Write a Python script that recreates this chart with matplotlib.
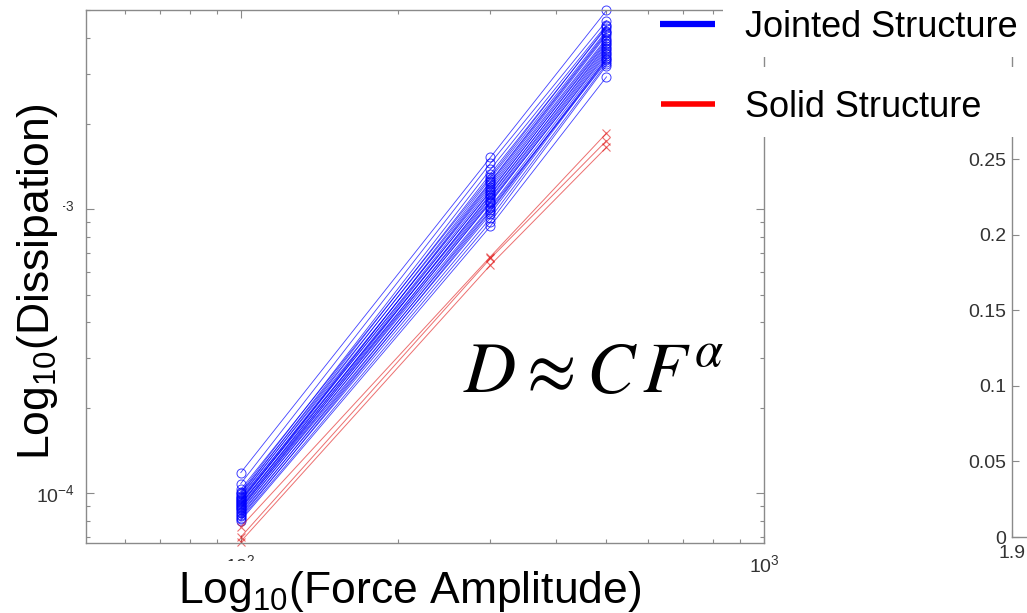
import matplotlib
matplotlib.use('Agg')
import matplotlib.pyplot as plt
from matplotlib.patches import Rectangle
from matplotlib.lines import Line2D
from matplotlib.ticker import NullFormatter, FuncFormatter

plt.rcParams['font.family'] = ['Liberation Sans', 'DejaVu Sans']
plt.rcParams['mathtext.fontset'] = 'custom'
plt.rcParams['mathtext.rm'] = 'Liberation Sans'
plt.rcParams['mathtext.it'] = 'Liberation Sans:italic'
plt.rcParams['mathtext.bf'] = 'Liberation Sans:bold'

# ---------------- data ----------------
force_levels = [100, 300, 500]

jointed_f100 = [1.18e-4, 1.08e-4, 1.03e-4, 1.01e-4, 1.00e-4, 9.9e-5, 9.8e-5,
                9.7e-5, 9.6e-5, 9.5e-5, 9.45e-5, 9.4e-5, 9.3e-5, 9.2e-5,
                9.15e-5, 9.1e-5, 9.0e-5, 8.9e-5, 8.85e-5, 8.8e-5, 8.7e-5,
                8.6e-5, 8.5e-5, 8.4e-5, 8.3e-5, 8.2e-5, 8.1e-5, 8.0e-5]
jointed_f300 = [1.52e-3, 1.45e-3, 1.30e-3, 1.38e-3, 1.25e-3, 1.33e-3, 1.20e-3,
                1.28e-3, 1.15e-3, 1.22e-3, 1.10e-3, 1.18e-3, 1.24e-3, 1.12e-3,
                1.07e-3, 1.16e-3, 1.05e-3, 1.13e-3, 1.02e-3, 1.09e-3, 0.99e-3,
                1.06e-3, 0.96e-3, 1.01e-3, 0.93e-3, 0.98e-3, 0.90e-3, 0.87e-3]
jointed_f500 = [5.0e-3, 4.6e-3, 4.4e-3, 4.45e-3, 4.2e-3, 4.35e-3, 4.0e-3,
                4.25e-3, 3.9e-3, 4.1e-3, 3.7e-3, 3.95e-3, 4.15e-3, 3.8e-3,
                3.6e-3, 3.85e-3, 3.55e-3, 3.75e-3, 3.45e-3, 3.65e-3, 3.4e-3,
                3.5e-3, 3.35e-3, 3.3e-3, 3.25e-3, 3.38e-3, 3.2e-3, 2.92e-3]

solid_f100 = [7.6e-5, 7.0e-5, 6.75e-5]
solid_f300 = [6.8e-4, 6.7e-4, 6.35e-4]
solid_f500 = [1.85e-3, 1.74e-3, 1.65e-3]

left_xlim = (50.6, 1000)
left_ylim = (6.67e-5, 5.02e-3)

right_xlim = (1.9, 2.5)
right_ylim = (0, 0.349)
right_yticks = [0, 0.05, 0.1, 0.15, 0.2, 0.25]
right_xticks = [1.9]

legend_labels = ['Jointed Structure', 'Solid Structure']
xlabel_text = r'Log$_{10}$(Force Amplitude)'
ylabel_text = r'Log$_{10}$(Dissipation)'
formula_text = r'$D \approx C\,F^{\alpha}$'

# ---------------- figure ----------------
W, H = 1027, 613
fig = plt.figure(figsize=(W / 100, H / 100), dpi=100)


def fx(px):
    return px / W


def fy(py):
    return 1 - py / H


spine_col = '#8a8a8a'
label_col = '#333333'

ax = fig.add_axes([fx(86), fy(543), fx(764) - fx(86), fy(10) - fy(543)])
ax.set_xscale('log')
ax.set_yscale('log')

for a, b, c in zip(jointed_f100, jointed_f300, jointed_f500):
    ax.plot(force_levels, [a, b, c], color='#0000ff', lw=0.6, alpha=0.75,
            marker='o', ms=6.5, mfc='none', mew=0.7, clip_on=False)
for a, b, c in zip(solid_f100, solid_f300, solid_f500):
    ax.plot(force_levels, [a, b, c], color='#e01010', lw=0.7, alpha=0.6,
            marker='x', ms=6, mew=0.8, clip_on=False)

ax.set_xlim(*left_xlim)
ax.set_ylim(*left_ylim)
ax.xaxis.set_minor_formatter(NullFormatter())
ax.yaxis.set_minor_formatter(NullFormatter())
ax.tick_params(which='both', direction='in', top=True, right=True,
               color=spine_col, labelcolor=label_col, labelsize=14, width=0.8)
ax.tick_params(which='major', length=6, pad=8)
ax.tick_params(which='minor', length=3)
for s in ax.spines.values():
    s.set_color(spine_col)
    s.set_linewidth(1.0)

# partial second panel on the right
ax2 = fig.add_axes([fx(1012), fy(537), 0.5, fy(10) - fy(537)])
ax2.set_xlim(*right_xlim)
ax2.set_ylim(*right_ylim)
ax2.set_yticks(right_yticks)
ax2.set_xticks(right_xticks)
fmt = FuncFormatter(lambda v, p: '%g' % v)
ax2.yaxis.set_major_formatter(fmt)
ax2.xaxis.set_major_formatter(fmt)
ax2.tick_params(direction='in', length=5, width=0.8, color=spine_col,
                labelcolor=label_col, labelsize=14, pad=4)
ax2.tick_params(axis='x', pad=6)
for s in ax2.spines.values():
    s.set_color(spine_col)
    s.set_linewidth(1.0)

# legend (white boxes covering the spines)
for top, bot in [(0, 57), (73, 137)]:
    fig.add_artist(Rectangle((fx(723), fy(bot)), fx(W) - fx(723) + 0.01,
                             fy(top) - fy(bot) + 0.01, transform=fig.transFigure,
                             fc='white', ec='none', zorder=5))
fig.add_artist(Line2D([fx(660), fx(715)], [fy(24), fy(24)],
                      transform=fig.transFigure, color='#0000ff', lw=4.5,
                      solid_capstyle='butt', zorder=6))
fig.add_artist(Line2D([fx(661), fx(715)], [fy(104), fy(104)],
                      transform=fig.transFigure, color='#ff0000', lw=4.0,
                      solid_capstyle='butt', zorder=6))
fig.text(fx(745), fy(37), legend_labels[0], fontsize=26, va='baseline',
         ha='left', color='black', zorder=7)
fig.text(fx(745), fy(117), legend_labels[1], fontsize=26, va='baseline',
         ha='left', color='black', zorder=7)

# axis labels with white background (cover the tick labels as in the slide)
fig.text(fx(410), fy(603), xlabel_text, fontsize=32, ha='center',
         va='baseline', color='black', zorder=5,
         bbox=dict(fc='white', ec='none', pad=6))
fig.text(fx(38), fy(282), ylabel_text, fontsize=32, rotation=90,
         ha='center', va='center', color='black', zorder=5,
         bbox=dict(fc='white', ec='none', pad=2))

# formula
fig.text(fx(463), fy(393), formula_text, fontsize=52, math_fontfamily='stix',
         ha='left', va='baseline', color='black', zorder=7)

fig.savefig('out.png', dpi=100)
